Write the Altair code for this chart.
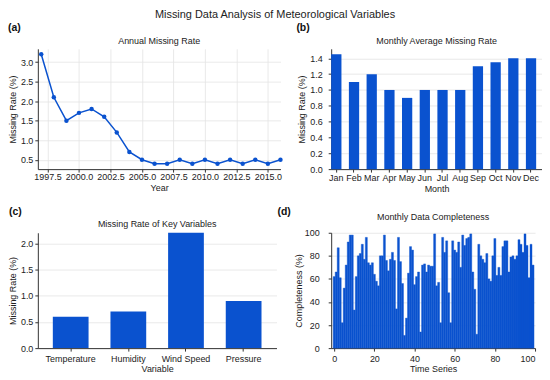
import altair as alt
import pandas as pd

BLUE = "#0a52cf"
FONT = "Liberation Sans"

# ---------------- data ----------------
years = list(range(1997, 2017))
annual_rate = [3.2, 2.1, 1.5, 1.7, 1.8, 1.6, 1.2, 0.7, 0.5, 0.4,
               0.4, 0.5, 0.4, 0.5, 0.4, 0.5, 0.4, 0.5, 0.4, 0.5]
year_ticks = [1997.5, 2000.0, 2002.5, 2005.0, 2007.5, 2010.0, 2012.5, 2015.0]
rate_ticks_a = [0.5, 1.0, 1.5, 2.0, 2.5, 3.0]

months = ["Jan", "Feb", "Mar", "Apr", "May", "Jun",
          "Jul", "Aug", "Sep", "Oct", "Nov", "Dec"]
monthly_rate = [1.45, 1.1, 1.2, 1.0, 0.9, 1.0, 1.0, 1.0, 1.3, 1.35, 1.4, 1.4]
rate_ticks_b = [0.0, 0.2, 0.4, 0.6, 0.8, 1.0, 1.2, 1.4]

variables = ["Temperature", "Humidity", "Wind Speed", "Pressure"]
variable_rate = [0.6, 0.7, 2.2, 0.9]
rate_ticks_c = [0.0, 0.5, 1.0, 1.5, 2.0]

series_index = list(range(100))
completeness = [62, 66, 87, 61, 22, 52, 72, 92, 98, 98,
                33, 62, 80, 82, 90, 77, 96, 74, 72, 74,
                64, 58, 54, 80, 80, 98, 76, 67, 77, 83,
                76, 34, 96, 75, 56, 11, 26, 65, 88, 85,
                55, 62, 66, 14, 72, 73, 66, 72, 71, 71,
                99, 54, 57, 22, 96, 83, 93, 48, 22, 93,
                85, 83, 92, 70, 98, 89, 95, 96, 99, 66,
                51, 12, 90, 80, 77, 74, 82, 60, 58, 80,
                95, 63, 70, 63, 88, 93, 93, 66, 79, 80,
                77, 80, 94, 90, 83, 99, 89, 61, 90, 72]
series_ticks = [0, 20, 40, 60, 80, 100]
compl_ticks = [0, 20, 40, 60, 80, 100]

panel_labels = ["(a)", "(b)", "(c)", "(d)"]
panel_titles = ["Annual Missing Rate", "Monthly Average Missing Rate",
                "Missing Rate of Key Variables", "Monthly Data Completeness"]
main_title = "Missing Data Analysis of Meteorological Variables"


def panel_texts(label, title, width, lab_dx, lab_dy, title_dy):
    lab = alt.Chart(pd.DataFrame({"t": [label]})).mark_text(
        align="left", baseline="middle", fontSize=10.5, fontWeight="bold",
        font=FONT, color="#111"
    ).encode(x=alt.value(lab_dx), y=alt.value(lab_dy), text="t:N")
    tit = alt.Chart(pd.DataFrame({"t": [title]})).mark_text(
        align="center", baseline="middle", fontSize=9, font=FONT, color="#222"
    ).encode(x=alt.value(width / 2), y=alt.value(title_dy), text="t:N")
    return [lab, tit]


AX = dict(labelOverlap=False)

# ---------------- (a) ----------------
df_a = pd.DataFrame({"Year": years, "Rate": annual_rate})
xa = alt.X("Year:Q", scale=alt.Scale(domain=[1996.73, 2016.0], nice=False, zero=False),
           axis=alt.Axis(values=year_ticks, format=".1f", title="Year", grid=True,
                         labelPadding=0, titlePadding=2, **AX))
ya = alt.Y("Rate:Q", scale=alt.Scale(domain=[0.26, 3.34], nice=False, zero=False),
           axis=alt.Axis(values=rate_ticks_a, format=".1f", title="Missing Rate (%)",
                         grid=True, labelPadding=2, titlePadding=3, **AX))
line_a = alt.Chart(df_a).mark_line(color=BLUE, strokeWidth=1.5).encode(x=xa, y=ya)
pts_a = alt.Chart(df_a).mark_circle(color=BLUE, size=20, opacity=1).encode(x=xa, y=ya)
panel_a = alt.layer(line_a, pts_a, *panel_texts(panel_labels[0], panel_titles[0], 244, -30, -20.5, -8)
                    ).properties(width=244, height=121)

# ---------------- (b) ----------------
df_b = pd.DataFrame({"Month": months, "Rate": monthly_rate})
bars_b = alt.Chart(df_b).mark_bar(color=BLUE).encode(
    x=alt.X("Month:N", sort=months,
            scale=alt.Scale(paddingInner=0.42, paddingOuter=0.165, align=0),
            axis=alt.Axis(labelAngle=0, title="Month", grid=False, labelPadding=1, titlePadding=2, **AX)),
    y=alt.Y("Rate:Q", scale=alt.Scale(domain=[0, 1.52], nice=False),
            axis=alt.Axis(values=rate_ticks_b, format=".1f", title="Missing Rate (%)",
                          grid=True, labelPadding=6, titlePadding=3, **AX)))
panel_b = alt.layer(bars_b, *panel_texts(panel_labels[1], panel_titles[1], 212, -35, -20.5, -8)
                    ).properties(width=212, height=121)

# ---------------- (c) ----------------
df_c = pd.DataFrame({"Variable": variables, "Rate": variable_rate})
bars_c = alt.Chart(df_c).mark_bar(color=BLUE).encode(
    x=alt.X("Variable:N", sort=variables,
            scale=alt.Scale(paddingInner=0.38, paddingOuter=0.26),
            axis=alt.Axis(labelAngle=0, title="Variable", grid=False, labelPadding=3, titlePadding=2, **AX)),
    y=alt.Y("Rate:Q", scale=alt.Scale(domain=[0, 2.2], nice=False),
            axis=alt.Axis(values=rate_ticks_c, format=".1f", title="Missing Rate (%)",
                          grid=True, labelPadding=2, titlePadding=3, **AX)))
panel_c = alt.layer(bars_c, *panel_texts(panel_labels[2], panel_titles[2], 240, -29, -21, -9.3)
                    ).properties(width=240, height=116)

# ---------------- (d) ----------------
df_d = pd.DataFrame({"t": series_index, "Completeness": completeness})
bars_d = alt.Chart(df_d).transform_calculate(
    x0="datum.t - 0.5", x1="datum.t + 0.5"
).mark_bar(color=BLUE, stroke=BLUE, strokeWidth=0.4).encode(
    x=alt.X("x0:Q", scale=alt.Scale(domain=[-1.5, 100], nice=False, zero=False),
            axis=alt.Axis(values=series_ticks, format="d", title="Time Series", grid=False,
                          labelPadding=3, titlePadding=2, **AX)),
    x2="x1:Q",
    y=alt.Y("Completeness:Q", scale=alt.Scale(domain=[0, 100], nice=False),
            axis=alt.Axis(values=compl_ticks, format="d", title="Completeness (%)",
                          grid=True, labelPadding=9, titlePadding=1, **AX)),
    y2=alt.datum(0))
panel_d = alt.layer(bars_d, *panel_texts(panel_labels[3], panel_titles[3], 205, -54, -21, -16)
                    ).properties(width=205, height=116)

chart = alt.concat(
    panel_a, panel_b, panel_c, panel_d,
    columns=2, spacing={"row": 64, "column": 51}, bounds="flush", align="each"
).properties(
    title=alt.TitleParams(main_title, fontSize=11, font=FONT, fontWeight="normal",
                          color="#222", anchor="middle", offset=3),
    padding=0
).configure_view(stroke=None).configure_axis(
    labelFont=FONT, titleFont=FONT, labelFontSize=9, titleFontSize=9,
    titleFontWeight="normal", labelColor="#222", titleColor="#222",
    domainColor="#333", tickColor="#333", tickSize=3, domainWidth=1,
    gridColor="#e3e3e3", gridWidth=0.8
)

chart.save("out.html", embed_options={"renderer": "svg", "actions": False})
